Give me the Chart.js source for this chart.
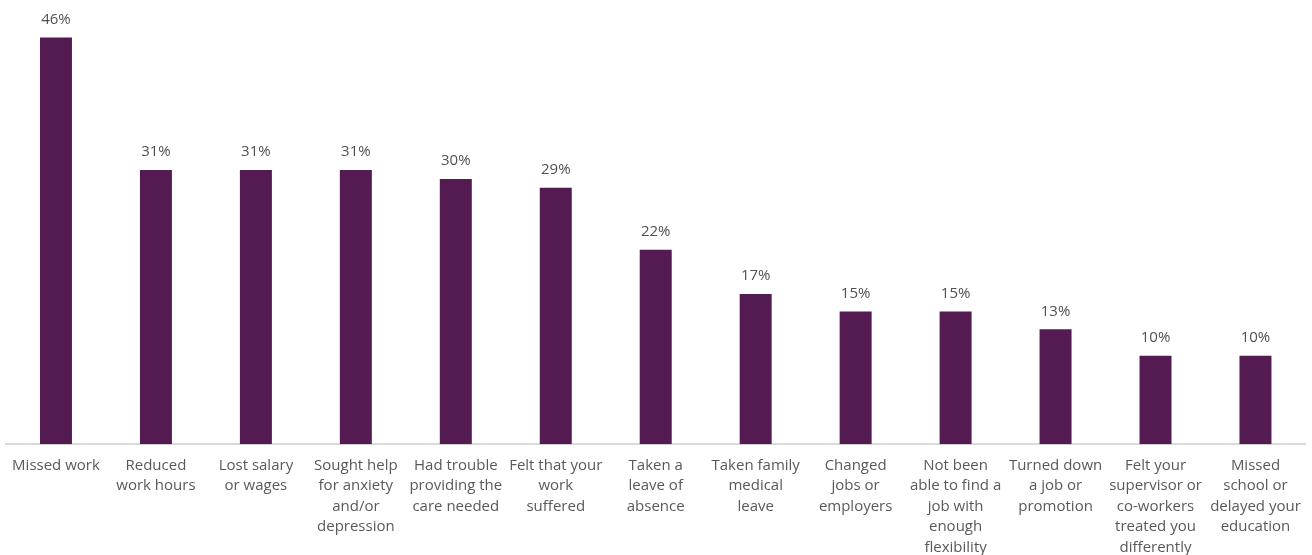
<!DOCTYPE html>
<html><head><meta charset="utf-8">
<script src="https://cdn.jsdelivr.net/npm/chart.js@4"></script>
<style>html,body{margin:0;padding:0;background:#fff}#wrap{width:1312px;height:555px;position:relative}</style>
</head><body><div id="wrap"><canvas id="c"></canvas></div>
<script>
const categories = [
  "Missed work",
  ["Reduced","work hours"],
  ["Lost salary","or wages"],
  ["Sought help","for anxiety","and/or","depression"],
  ["Had trouble","providing the","care needed"],
  ["Felt that your","work","suffered"],
  ["Taken a","leave of","absence"],
  ["Taken family","medical","leave"],
  ["Changed","jobs or","employers"],
  ["Not been","able to find a","job with","enough","flexibility"],
  ["Turned down","a job or","promotion"],
  ["Felt your","supervisor or","co-workers","treated you","differently"],
  ["Missed","school or","delayed your","education"]
];
const values = [46,31,31,31,30,29,22,17,15,15,13,10,10];
const FONT = "'Open Sans', sans-serif";

const valueLabels = {
  id: 'valueLabels',
  afterDatasetsDraw(chart) {
    const ctx = chart.ctx;
    const meta = chart.getDatasetMeta(0);
    ctx.save();
    ctx.font = "15px " + FONT;
    ctx.fillStyle = '#505050';
    ctx.textAlign = 'center';
    ctx.textBaseline = 'middle';
    meta.data.forEach((bar, i) => {
      ctx.fillText(values[i] + '%', bar.x, bar.y - 18);
    });
    ctx.restore();
  }
};

new Chart(document.getElementById('c'), {
  type: 'bar',
  data: { labels: categories, datasets: [{ data: values, backgroundColor: '#541B53', categoryPercentage: 1, barPercentage: 0.32 }] },
  options: {
    responsive: true, maintainAspectRatio: false, animation: false,
    layout: { padding: { left: 6, right: 6, top: 2, bottom: -14 } },
    plugins: { legend: { display: false }, tooltip: { enabled: false } },
    scales: {
      x: {
        grid: { display: false, drawTicks: false },
        border: { color: '#d9d9d9', width: 2 },
        ticks: { color: '#595959', font: { family: FONT, size: 15, lineHeight: 1.37 }, padding: 11, maxRotation: 0, autoSkip: false }
      },
      y: { display: false, min: 0, max: 50 }
    }
  },
  plugins: [valueLabels]
});
</script></body></html>
